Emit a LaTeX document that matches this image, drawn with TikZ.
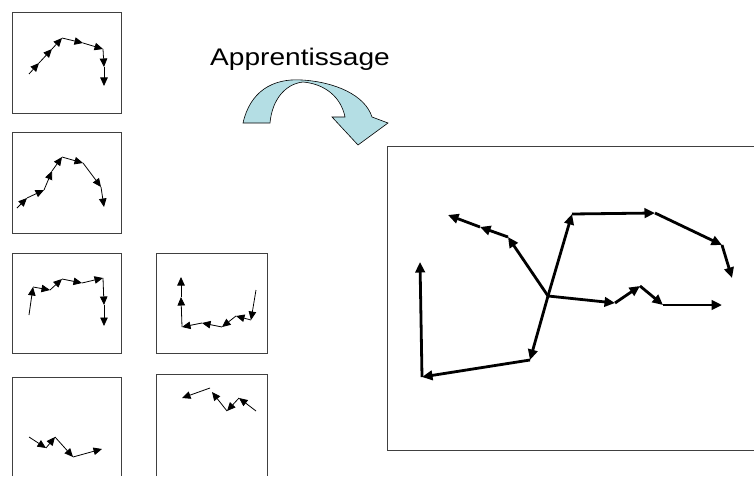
\documentclass[tikz,border=0pt]{standalone}
\usepackage{fontspec}
\setmainfont{Liberation Sans}
\usetikzlibrary{arrows.meta}
\definecolor{ribbon}{RGB}{180,222,228}
\begin{document}
\begin{tikzpicture}
  [x=1pt,y=-1pt,
   box/.style={draw=black!75,line width=0.8pt},
   sarr/.style={line width=0.8pt,-{Triangle[length=8.5pt,width=7.5pt]}},
   barr/.style={line width=2.8pt,-{Triangle[length=10.5pt,width=9.5pt]}}]
\useasboundingbox (0,0) rectangle (754,476);

% the little examples
\draw[box] (12,12) rectangle (121,113);
\draw[box] (12,132) rectangle (121,233);
\draw[box] (12,253) rectangle (121,353);
\draw[box] (156,253) rectangle (267,353);
\draw[box] (12,476) -- (12,377) -- (121,377) -- (121,476);
\draw[box] (156,476) -- (156,374) -- (267,374) -- (267,476);

\path (29,74) coordinate (a1) (39,63) coordinate (a2) (52,49) coordinate (a3)
  (62,38) coordinate (a4) (83,43) coordinate (a5) (103,49) coordinate (a6)
  (104,67) coordinate (a7) (104,86) coordinate (a8);
\path (17,208) coordinate (b1) (27,198) coordinate (b2) (44,190) coordinate (b3)
  (52,171) coordinate (b4) (62,157) coordinate (b5) (83,163) coordinate (b6)
  (101,187) coordinate (b7) (104,207) coordinate (b8);
\path (29,315) coordinate (c1) (33,287) coordinate (c2) (50,290) coordinate (c3)
  (62,279) coordinate (c4) (82,283) coordinate (c5) (103,278) coordinate (c6)
  (104,305) coordinate (c7) (104,326) coordinate (c8);
\path (256,290) coordinate (d1) (251,320) coordinate (d2) (236,316) coordinate (d3)
  (222,327) coordinate (d4) (202,323) coordinate (d5) (182,327) coordinate (d6)
  (181,297) coordinate (d7) (181,277) coordinate (d8);
\path (29,437) coordinate (e1) (46,448) coordinate (e2) (55,437) coordinate (e3)
  (73,457) coordinate (e4) (102,449) coordinate (e5);
\path (256,411) coordinate (f1) (239,398) coordinate (f2) (227,411) coordinate (f3)
  (212,392) coordinate (f4) (210,388) coordinate (f5) (182,398) coordinate (f6);

\foreach \from/\to in {a1/a2,a2/a3,a3/a4,a4/a5,a5/a6,a6/a7,a7/a8,
    b1/b2,b2/b3,b3/b4,b4/b5,b5/b6,b6/b7,b7/b8,
    c1/c2,c2/c3,c3/c4,c4/c5,c5/c6,c6/c7,c7/c8,
    d1/d2,d2/d3,d3/d4,d4/d5,d5/d6,d6/d7,d7/d8,
    e1/e2,e2/e3,e3/e4,e4/e5,
    f1/f2,f2/f3,f3/f4,f5/f6}
  \draw[sarr] (\from) -- (\to);

% learning
\node (learn) at (300,65.7) [anchor=base,inner sep=0pt]
  {\fontsize{24}{24}\selectfont\scalebox{1.17}[1]{Apprentissage}};
\draw[fill=ribbon,line width=0.6pt] (243,123) .. controls (250,92) and (272,78) .. (302,80)
  .. controls (335,82) and (365,95) .. (372,117) -- (388,123) -- (358,145) -- (332,117)
  -- (345,117) .. controls (341,97) and (325,84) .. (303,82)
  .. controls (285,84) and (272,100) .. (270,123) -- cycle;

% the learnt model
\draw[box] (754,146) -- (387,146) -- (387,450) -- (754,450);
\coordinate (ctr) at (548,296);
\path (508,237) coordinate (g1) (480,227) coordinate (g2) (448,215) coordinate (g3);
\path (572,214) coordinate (h1) (655,213) coordinate (h2) (722,245) coordinate (h3)
  (732,278) coordinate (h4);
\path (615,303) coordinate (k1) (640,286) coordinate (k2) (663,305) coordinate (k3)
  (722,305) coordinate (k4);
\path (530,360) coordinate (m1) (422,377) coordinate (m2) (420,262) coordinate (m3);

\foreach \from/\to in {ctr/g1,g1/g2,g2/g3,ctr/h1,h1/h2,h2/h3,h3/h4,
    ctr/k1,k1/k2,k2/k3,k3/k4,ctr/m1,m1/m2,m2/m3}
  \draw[barr] (\from) -- (\to);

\end{tikzpicture}
\end{document}
